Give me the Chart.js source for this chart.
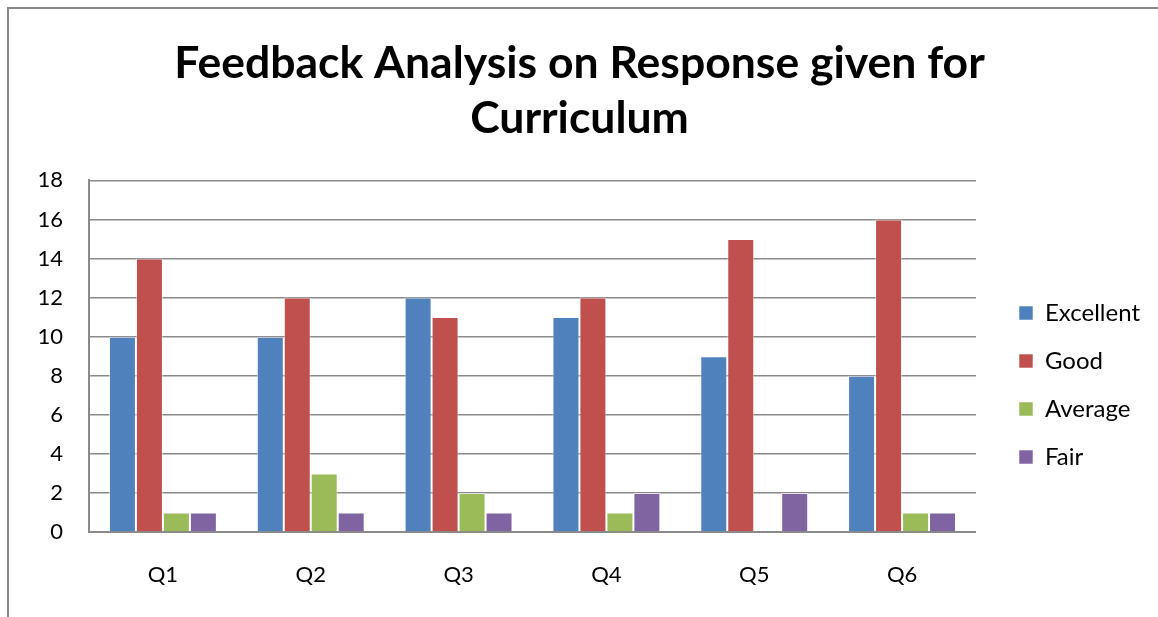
<!DOCTYPE html>
<html>
<head>
<meta charset="utf-8">
<script src="https://cdn.jsdelivr.net/npm/chart.js@4.4.1/dist/chart.umd.min.js"></script>
<style>
  html, body { margin: 0; padding: 0; background: #fff; overflow: hidden; }
  #frame { position: absolute; left: 7px; top: 7px; width: 1151px; height: 610px;
           border-left: 2px solid #8a8a8a; border-top: 2px solid #8a8a8a; }
  #wrap { position: absolute; left: 0; top: 0; width: 1149px; height: 608px; }
</style>
</head>
<body>
<div id="frame"><div id="wrap"><canvas id="c"></canvas></div></div>
<script>
const categories = ["Q1", "Q2", "Q3", "Q4", "Q5", "Q6"];
const excellent = [10, 10, 12, 11, 9, 8];
const good = [14, 12, 11, 12, 15, 16];
const average = [1, 3, 2, 1, 0, 1];
const fair = [1, 1, 1, 2, 2, 1];
const titleLines = ["Feedback Analysis on Response given for", "Curriculum"];
const yMin = 0, yMax = 18, yStep = 2;

const FONT = "Lato, 'Open Sans', sans-serif";
const mk = (label, data, color) => ({
  label, data, backgroundColor: color, borderColor: "rgba(255,255,255,0.55)", borderWidth: 1,
  categoryPercentage: 0.73, barPercentage: 1.0
});

new Chart(document.getElementById("c"), {
  type: "bar",
  data: {
    labels: categories,
    datasets: [
      mk("Excellent", excellent, "#4F81BD"),
      mk("Good", good, "#C0504D"),
      mk("Average", average, "#9BBB59"),
      mk("Fair", fair, "#8064A2")
    ]
  },
  options: {
    responsive: true,
    maintainAspectRatio: false,
    animation: false,
    layout: { padding: { left: 0, right: 8, top: 0, bottom: 25 } },
    plugins: {
      title: {
        display: true,
        text: titleLines,
        color: "#000",
        font: { family: FONT, size: 44.5, weight: "bold", lineHeight: 1.24 },
        padding: { top: 27, bottom: 34 }
      },
      legend: {
        position: "right",
        align: "start",
        title: { display: true, text: " ", font: { size: 12, lineHeight: 1 }, padding: { top: 256, bottom: 0 } },
        labels: {
          color: "#000",
          font: { family: FONT, size: 24 },
          boxWidth: 14, boxHeight: 14,
          padding: 24
        }
      },
      tooltip: { enabled: false }
    },
    scales: {
      x: {
        grid: { display: false },
        border: { display: true, color: "#8a8a8a", width: 2 },
        ticks: { color: "#000", font: { family: FONT, size: 22 }, padding: 22 },
        afterFit: s => { s.height = 60; }
      },
      y: {
        min: yMin, max: yMax,
        grid: { color: "#8a8a8a", lineWidth: 1.5, drawTicks: false },
        border: { display: true, color: "#8a8a8a", width: 2 },
        ticks: { stepSize: yStep, color: "#000", font: { family: FONT, size: 22 }, padding: 26 },
        afterFit: s => { s.width = 80; }
      },
      spacer: {
        type: "linear",
        position: "right",
        display: true,
        grid: { display: false },
        border: { display: false },
        ticks: { display: false },
        afterFit: s => { s.width = 19; }
      }
    }
  }
});
</script>
</body>
</html>
